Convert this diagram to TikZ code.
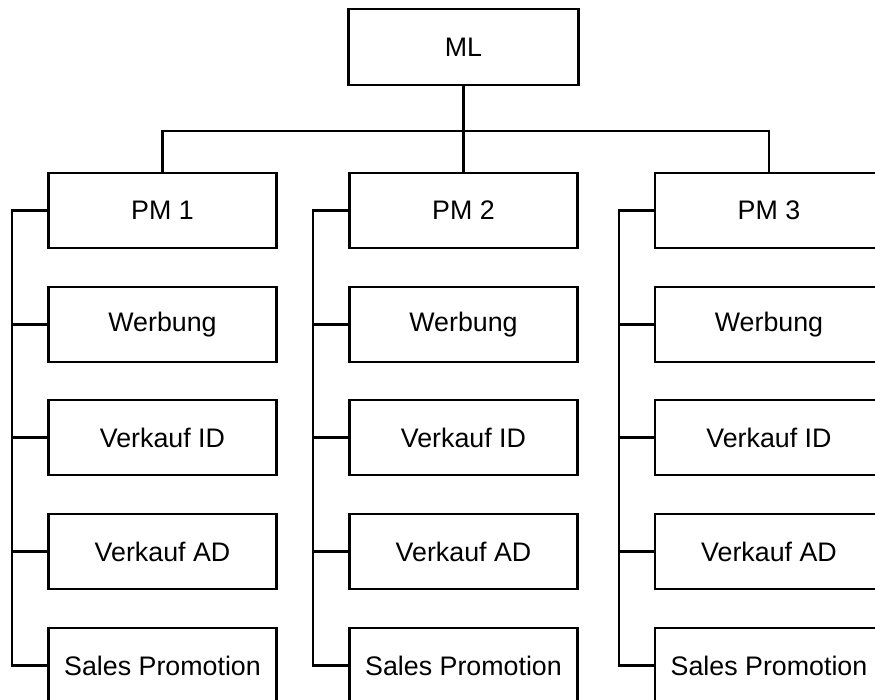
\documentclass[tikz,border=0pt]{standalone}
\usepackage{fontspec}
\setmainfont{Liberation Sans}
\begin{document}
\begin{tikzpicture}[x=1pt,y=-1pt,
  unit/.style={draw, line width=2.3pt, minimum width=228pt, minimum height=75pt,
    inner sep=0pt, font=\fontsize{26.8}{30}\selectfont},
  link/.style={line width=2.2pt}]
\useasboundingbox (0,0) rectangle (875,700);
\clip (0,0) rectangle (875,700);

% head of the organisation
\node[unit, minimum width=230pt, minimum height=76pt] (ml) at (463.5,47) {ML};
\coordinate (bus) at (463.5,131);

% one column per product manager with its functions
\foreach \c/\x in {1/162.5, 2/463.5, 3/769}{
  \node[unit] (pm\c) at (\x,210.5) {PM \c};
  \node[unit] (wb\c) at (\x,324.5) {Werbung};
  \node[unit] (vi\c) at (\x,437.5) {Verkauf ID};
  \node[unit] (va\c) at (\x,551.5) {Verkauf AD};
  \node[unit] (sp\c) at (\x,665.5) {Sales Promotion};
  \draw[link] (pm\c.west) -- ++(-35,0) coordinate (sx\c) |- (sp\c.west);
  \foreach \n in {wb,vi,va}
    \draw[link] (\n\c.west) -- (\n\c.west -| sx\c);
}

% connection from ML to the product managers
\draw[link] (ml.south) -- (bus) -- (pm2.north);
\draw[link] (pm1.north) |- (bus) -| (pm3.north);
\end{tikzpicture}
\end{document}
